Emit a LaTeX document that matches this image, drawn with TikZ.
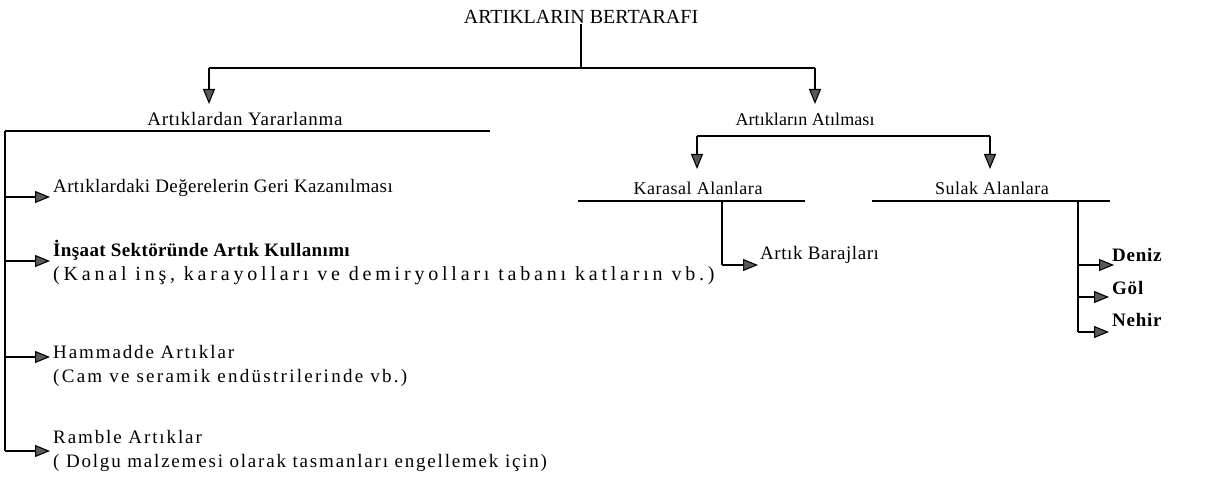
\documentclass[tikz,border=0pt]{standalone}
\usepackage{fontspec}
\setmainfont{Liberation Serif}
\usetikzlibrary{arrows.meta}
\newcommand{\lsp}[1]{\addfontfeature{LetterSpace=#1}}
\begin{document}
\begin{tikzpicture}[x=1pt,y=-1pt,
  lbl/.style={inner sep=0pt, font=\fontsize{19}{22}\selectfont},
  hd/.style={inner sep=0pt, font=\fontsize{18}{21}\selectfont},
  ln/.style={line width=1.5pt},
  arr/.style={line width=1.1pt, -{Triangle[length=15pt,width=12pt,fill=black!65]}},
]
\useasboundingbox (0,0) rectangle (1214,494);
% titles
\node[lbl,font=\fontsize{20}{23}\selectfont] (T) at (581,17) {ARTIKLARIN BERTARAFI};
\node[lbl] (Y) at (245,119) {\lsp{4}Artıklardan Yararlanma};
\node[hd] (A) at (805,119) {\lsp{0.5}Artıkların Atılması};
\node[hd] (K) at (698,188) {\lsp{3}Karasal Alanlara};
\node[hd] (S) at (992,188) {\lsp{3}Sulak Alanlara};
% junctions
\coordinate (t0) at (581,68);
\coordinate (tl) at (209,68);
\coordinate (tr) at (815,68);
\coordinate (yl) at (5,131);
\coordinate (yr) at (490,131);
\coordinate (al) at (697,136);
\coordinate (ar) at (990,136);
\coordinate (kl) at (578,201);
\coordinate (kr) at (805,201);
\coordinate (sl) at (872,201);
\coordinate (sr) at (1110,201);
\coordinate (kv) at (722,201);
\coordinate (sv) at (1078,201);
% top level
\draw[ln] (T.south) -- (t0);
\draw[ln] (tl) -- (tr);
\draw[arr] (tl) -- (209,104);
\draw[arr] (tr) -- (815,104);
\draw[ln] (yl) -- (yr);
\draw[ln] (al) -- (ar);
\draw[arr] (al) -- (697,169);
\draw[arr] (ar) -- (990,169);
\draw[ln] (kl) -- (kr);
\draw[ln] (sl) -- (sr);
% left items
\node[lbl,anchor=west] (L1) at (53,188) {\lsp{2}Artıklardaki Değerelerin Geri Kazanılması};
\node[lbl,anchor=west] (L2) at (53,250) {\bfseries\lsp{2}İnşaat Sektöründe Artık Kullanımı};
\node[lbl,anchor=west,font=\fontsize{20}{23}\selectfont] (L2b) at (53,276) {\lsp{19}(Kanal inş, karayolları ve demiryolları tabanı katların vb.)};
\node[lbl,anchor=west] (L3) at (53,352) {\lsp{10}Hammadde Artıklar};
\node[lbl,anchor=west] (L3b) at (53,378) {\lsp{12}(Cam ve seramik endüstrilerinde vb.)};
\node[lbl,anchor=west] (L4) at (53,437) {\lsp{10}Ramble Artıklar};
\node[lbl,anchor=west] (L4b) at (53,463) {\lsp{9.5}( Dolgu malzemesi olarak tasmanları engellemek için)};
\coordinate (b1) at (5,197);
\coordinate (b2) at (5,261);
\coordinate (b3) at (5,357);
\coordinate (b4) at (5,451);
\draw[ln] (yl) -- (b4);
\draw[arr] (b1) -- (50,197);
\draw[arr] (b2) -- (50,261);
\draw[arr] (b3) -- (50,357);
\draw[arr] (b4) -- (50,451);
% Karasal
\node[lbl,anchor=west] (KB) at (760,255) {\lsp{3}Artık Barajları};
\coordinate (kb) at (722,265);
\draw[ln] (kv) -- (kb);
\draw[arr] (kb) -- (758,265);
% Sulak
\node[lbl,anchor=west,font=\fontsize{19}{22}\selectfont\bfseries] (D) at (1112,255) {\lsp{4}Deniz};
\node[lbl,anchor=west,font=\fontsize{19}{22}\selectfont\bfseries] (G) at (1112,288) {\lsp{4}Göl};
\node[lbl,anchor=west,font=\fontsize{19}{22}\selectfont\bfseries] (N) at (1112,320) {\lsp{4}Nehir};
\coordinate (d1) at (1078,265);
\coordinate (d2) at (1078,297);
\coordinate (d3) at (1078,332);
\draw[ln] (sv) -- (d3);
\draw[arr] (d1) -- (1114,265);
\draw[arr] (d2) -- (1109,297);
\draw[arr] (d3) -- (1109,332);
\end{tikzpicture}
\end{document}
